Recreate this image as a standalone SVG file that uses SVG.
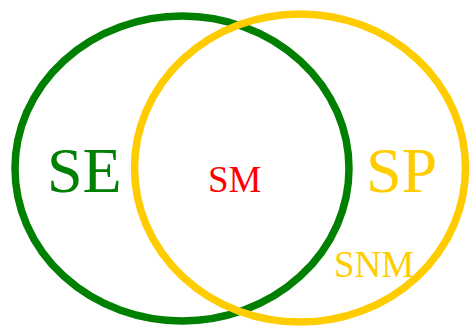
<svg xmlns="http://www.w3.org/2000/svg" width="470" height="326" viewBox="0 0 470 326">
<style>
.ring{fill:none;stroke-width:7.5}
text{font-family:"Liberation Serif","Times New Roman",serif}
.big{font-size:64px}
.small{font-size:37px}
</style>
<rect width="470" height="326" fill="#ffffff"/>
<g id="SE">
<ellipse class="ring" cx="182" cy="168.5" rx="167" ry="152.5" stroke="#008000"/>
<text class="big" x="47" y="192" fill="#008000">SE</text>
</g>
<g id="SP">
<ellipse class="ring" cx="300" cy="168" rx="165.5" ry="154" stroke="#FFCC00"/>
<text class="big" x="366" y="192" fill="#FFCC00">SP</text>
</g>
<g id="SM">
<text class="small" x="208" y="192" fill="#FF0000">SM</text>
</g>
<g id="SNM">
<text class="small" x="334" y="277" fill="#FFCC00">SNM</text>
</g>
<g id="connectors"></g>
</svg>
